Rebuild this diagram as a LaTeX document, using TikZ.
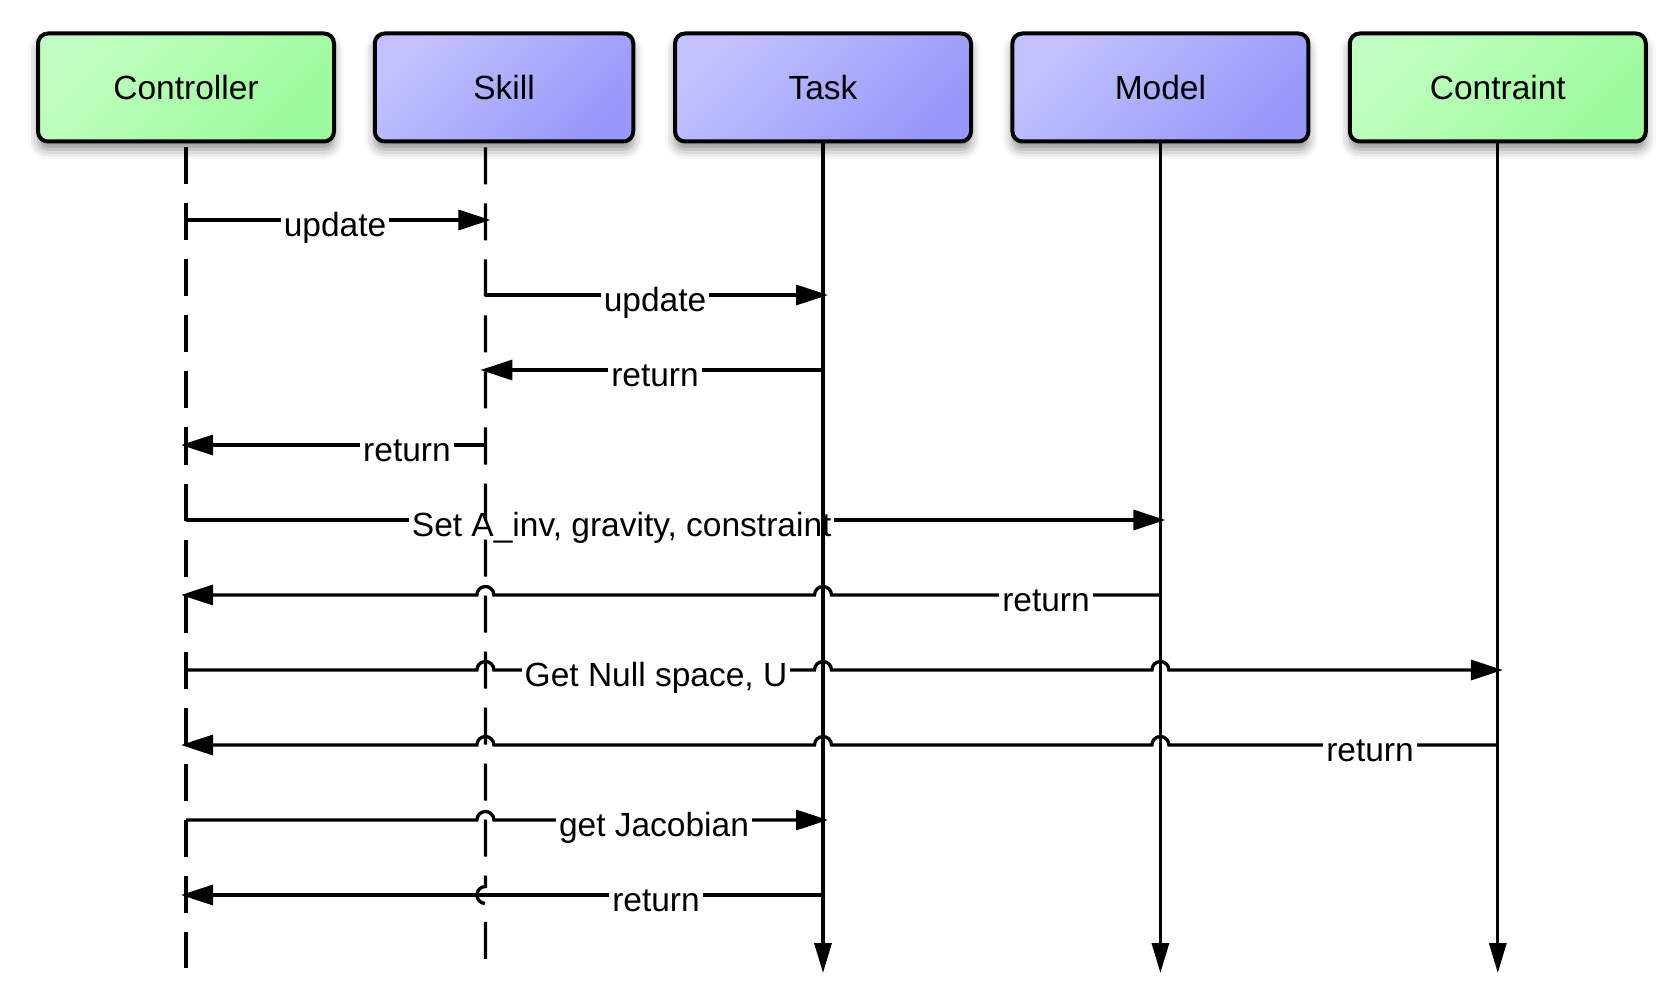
\documentclass[tikz,border=0pt]{standalone}
\usepackage{fontspec}
\setmainfont{Liberation Sans}
\usepackage{xcolor}
\usetikzlibrary{arrows.meta}
\usetikzlibrary{shadows.blur}
\usetikzlibrary{calc}
\definecolor{greentop}{RGB}{194,255,194}
\definecolor{greenbot}{RGB}{155,250,155}
\definecolor{bluetop}{RGB}{194,194,255}
\definecolor{bluebot}{RGB}{152,152,250}
\tikzset{actor/.style={draw,line width=2pt,rounded corners=5pt,minimum height=54pt,
                  blur shadow={shadow xshift=0pt,shadow yshift=-4pt,shadow blur radius=5pt,shadow opacity=45},
                  font=\fontsize{16.75}{20}\selectfont},
         greenactor/.style={actor,top color=greentop,bottom color=greenbot,shading angle=45},
         blueactor/.style={actor,top color=bluetop,bottom color=bluebot,shading angle=45},
         life/.style={line width=1.65pt},
         dashlife/.style={life,dash pattern=on 18.5pt off 9.5pt,dash phase=26pt},
         endlife/.style={life,-{Triangle[length=15pt,width=8.5pt]}},
         msg/.style={line width=1.65pt,-{Triangle[length=16pt,width=10pt]},shorten >=-2.5pt},
         lbl/.style={fill=white,inner xsep=1.5pt,inner ysep=0.5pt,anchor=base,
                  text height=12.6pt,text depth=3.7pt,font=\fontsize{16.75}{20}\selectfont},
         }
\begin{document}
\begin{tikzpicture}[x=0.5pt,y=0.5pt]
	\useasboundingbox (0,0) rectangle (1680,992);
	% participants
	\node[greenactor,minimum width=148pt] (ctrl) at (186,904.5) {Controller};
	\node[blueactor,minimum width=129.25pt] (skill) at (504,904.5) {Skill};
	\node[blueactor,minimum width=148pt] (task) at (823,904.5) {Task};
	\node[blueactor,minimum width=148pt] (model) at (1160.4,904.5) {Model};
	\node[greenactor,minimum width=148pt] (cons) at (1497.8,904.5) {Contraint};
	\coordinate (lc) at (ctrl.south);
	\coordinate (ls) at ([xshift=-9.3pt]skill.south);
	\coordinate (lt) at (task.south);
	\coordinate (lm) at (model.south);
	\coordinate (lk) at (cons.south);
	% messages
	\draw[msg] (lc |- 0,772) -- (ls |- 0,772);
	\draw[msg] (ls |- 0,697) -- (lt |- 0,697);
	\draw[msg] (lt |- 0,622) -- (ls |- 0,622);
	\draw[msg] (ls |- 0,547) -- (lc |- 0,547);
	\draw[msg] (lc |- 0,472) -- (lm |- 0,472);
	\draw[msg] (lm |- 0,397) -- ($(lt |- 0,397)+(8.5,0)$) arc[start angle=0,end angle=180,radius=8.5]
		-- ($(ls |- 0,397)+(8.5,0)$) arc[start angle=0,end angle=180,radius=8.5] -- (lc |- 0,397);
	\draw[msg] (lc |- 0,322) -- ($(ls |- 0,322)+(-8.5,0)$) arc[start angle=180,end angle=0,radius=8.5]
		-- ($(lt |- 0,322)+(-8.5,0)$) arc[start angle=180,end angle=0,radius=8.5]
		-- ($(lm |- 0,322)+(-8.5,0)$) arc[start angle=180,end angle=0,radius=8.5] -- (lk |- 0,322);
	\draw[msg] (lk |- 0,247) -- ($(lm |- 0,247)+(8.5,0)$) arc[start angle=0,end angle=180,radius=8.5]
		-- ($(lt |- 0,247)+(8.5,0)$) arc[start angle=0,end angle=180,radius=8.5]
		-- ($(ls |- 0,247)+(8.5,0)$) arc[start angle=0,end angle=180,radius=8.5] -- (lc |- 0,247);
	\draw[msg] (lc |- 0,172) -- ($(ls |- 0,172)+(-8.5,0)$) arc[start angle=180,end angle=0,radius=8.5] -- (lt |- 0,172);
	\draw[msg] (lt |- 0,97) -- (lc |- 0,97);
	% labels
	\node[lbl] (l1) at (335,755.5) {update};
	\node[lbl] (l2) at (655,680.5) {update};
	\node[lbl] (l3) at (655,605.5) {return};
	\node[lbl] (l4) at (407,530.5) {return};
	\node[lbl] (l5) at (621.7,455.5) {Set A\_inv, gravity, constraint};
	\node[lbl] (l6) at (1046,380.5) {return};
	\node[lbl] (l7) at (656,305.5) {Get Null space, U};
	\node[lbl] (l8) at (1370,230.5) {return};
	\node[lbl] (l9) at (654,155.5) {get Jacobian};
	\node[lbl] (l10) at (656,80.5) {return};
	% lifelines
	\draw[dashlife] (lc) -- (lc |- 0,24);
	\draw[dashlife] (ls) -- (ls |- 0,105.5) arc[start angle=90,end angle=270,radius=8.5] -- (ls |- 0,24);
	\draw[endlife] (lt) -- (lt |- 0,19);
	\draw[endlife] (lm) -- (lm |- 0,19);
	\draw[endlife] (lk) -- (lk |- 0,19);
\end{tikzpicture}
\end{document}
